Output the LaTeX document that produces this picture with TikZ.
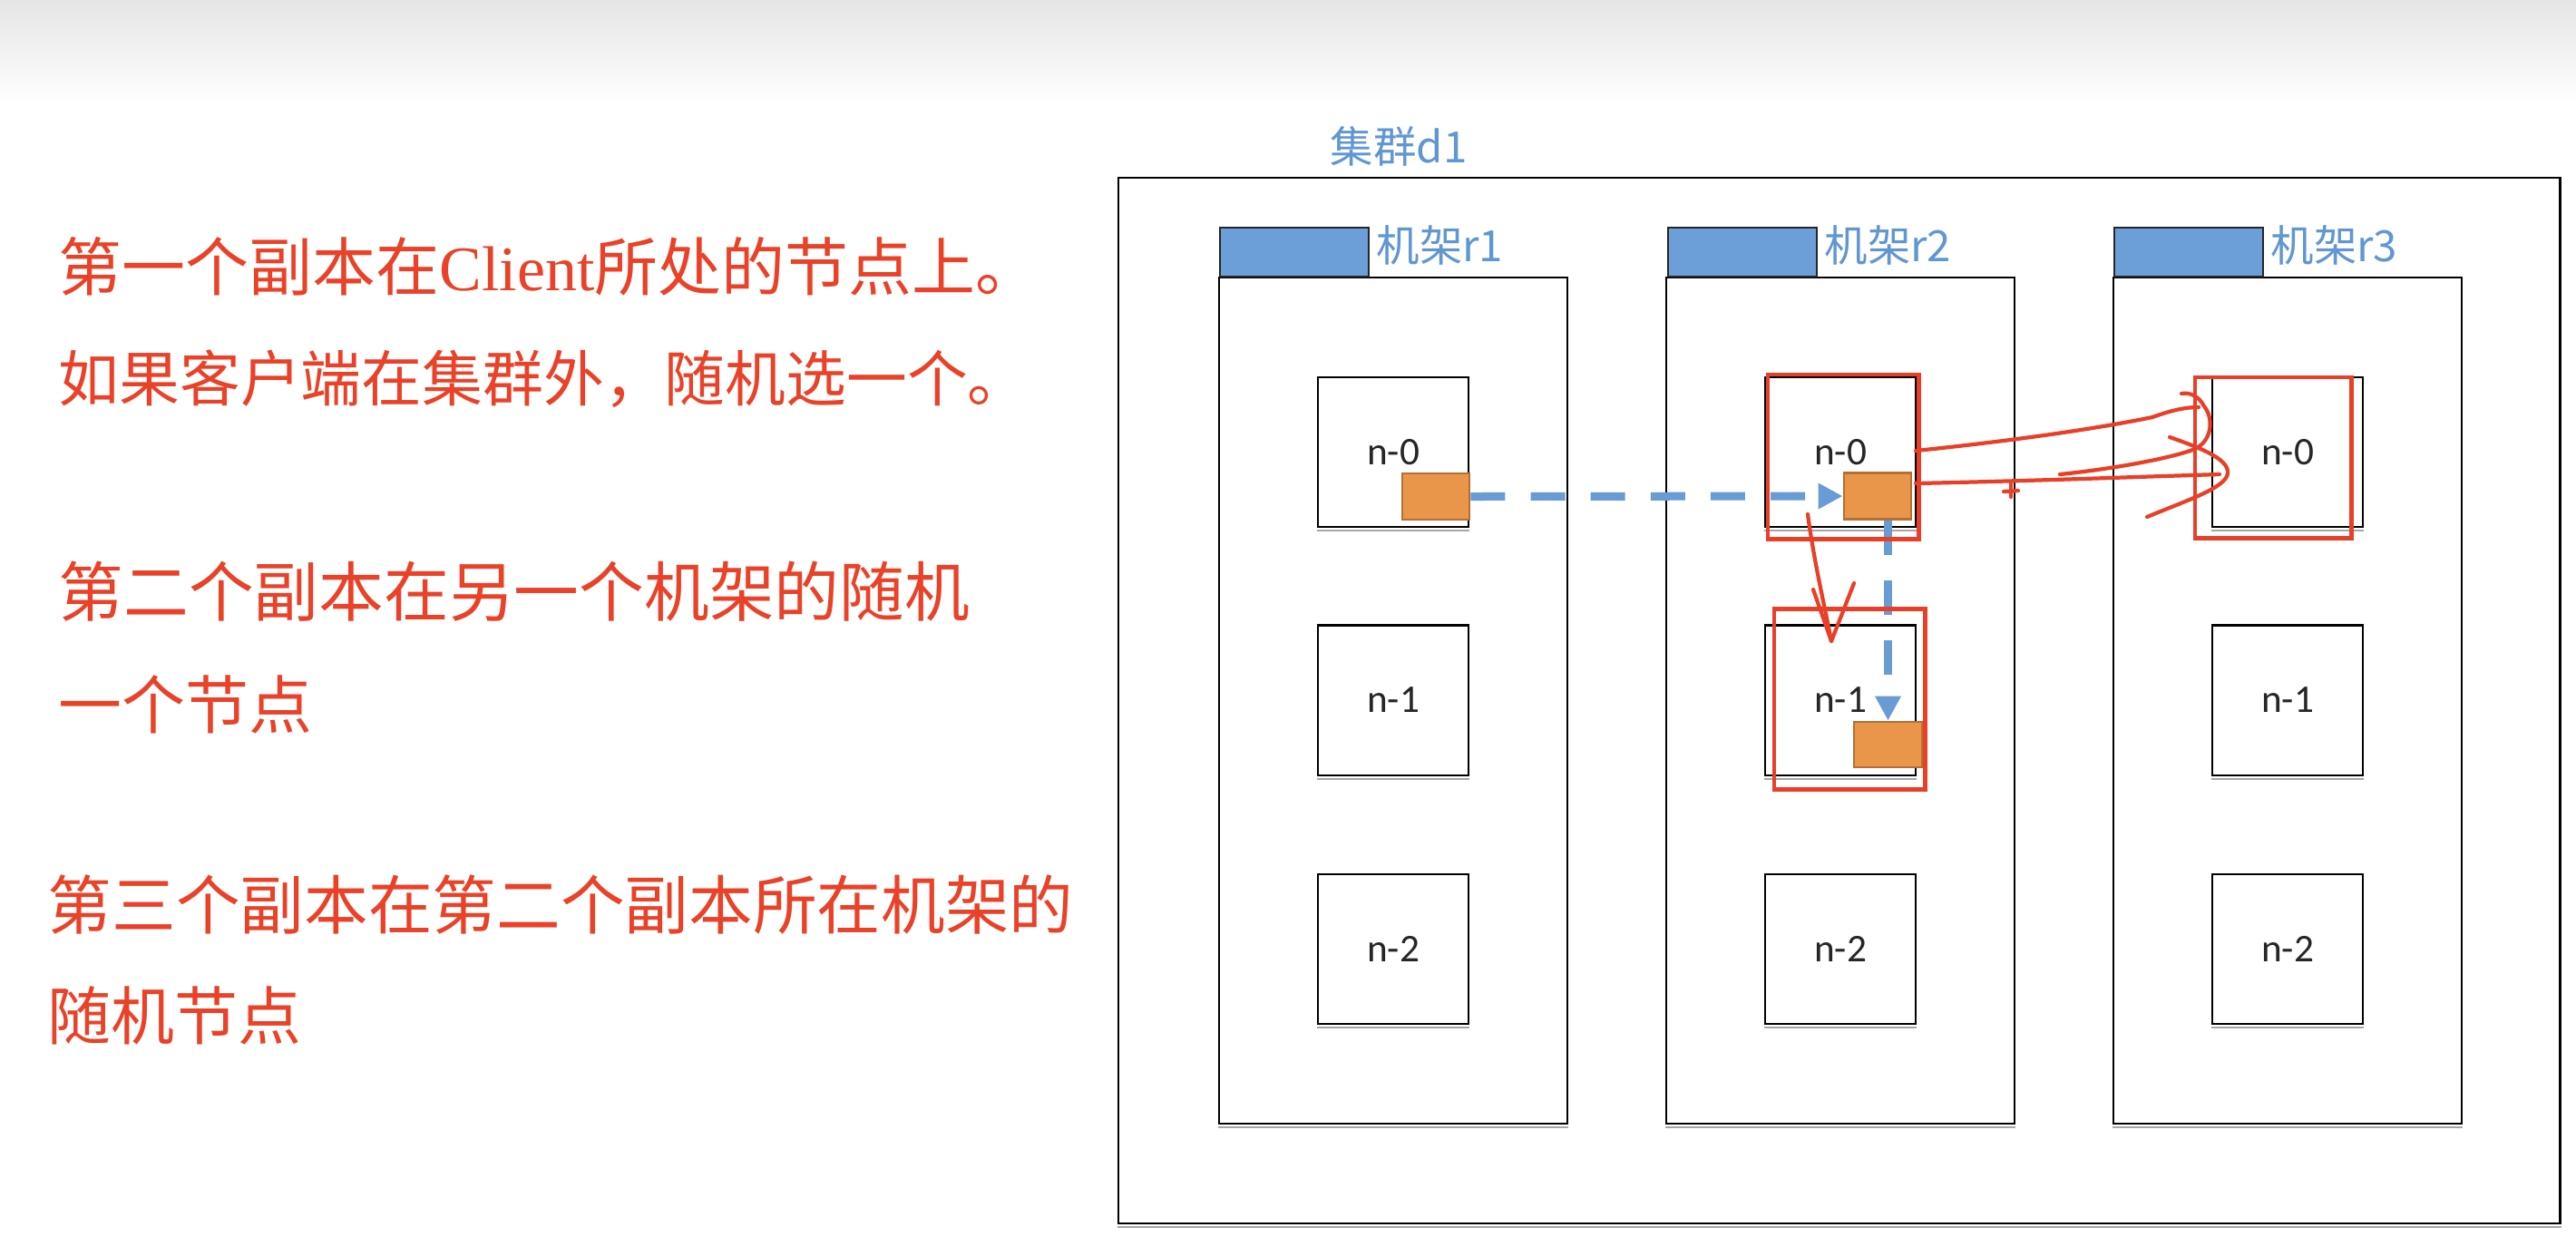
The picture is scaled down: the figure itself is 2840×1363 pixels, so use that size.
\documentclass[tikz,border=0pt]{standalone}
\usepackage{fontspec}
\setmainfont{Noto Sans CJK SC}
\newfontfamily\cjk{Noto Sans CJK SC}
\newfontfamily\calfont{Carlito}
\newfontfamily\latserif{Liberation Serif}
\usetikzlibrary{arrows.meta,calc}
\definecolor{annred}{RGB}{232,64,40}
\definecolor{txtred}{RGB}{233,66,40}
\definecolor{lblue}{RGB}{106,155,213}
\definecolor{hblue}{RGB}{108,158,216}
\definecolor{lbltext}{RGB}{96,150,210}
\definecolor{ofill}{RGB}{233,149,74}
\definecolor{oedge}{RGB}{180,112,52}
\definecolor{topgray}{RGB}{229,229,229}
\begin{document}
\begin{tikzpicture}[x=0.01cm,y=-0.01cm,
  clusterbox/.style={draw=black, line width=0.6pt, minimum width=15.89cm, minimum height=11.53cm, inner sep=0},
  rackbox/.style={draw=black, line width=0.6pt, minimum width=3.84cm, minimum height=9.33cm, inner sep=0},
  rackhead/.style={draw=black!85, fill=hblue, line width=0.5pt, minimum width=1.64cm, minimum height=0.54cm, inner sep=0, anchor=south west},
  srvbox/.style={draw=black, line width=0.6pt, fill=white, minimum width=1.66cm, minimum height=1.65cm, inner sep=0, text=black!85, font=\calfont\fontsize{12.3pt}{14pt}\selectfont},
  blk/.style={draw=oedge, line width=0.8pt, fill=ofill, minimum width=0.74cm, minimum height=0.51cm, inner sep=0},
  bluedash/.style={draw=lblue, line width=2.56pt, dash pattern=on 10.8pt off 8pt, -{Triangle[length=7.7pt,width=7.7pt]}},
  redbox/.style={draw=annred, line width=1.4pt, inner sep=0},
  scrib/.style={draw=annred, line width=1.2pt, line cap=round, line join=round},
  shadowline/.style={draw=black!35, line width=0.6pt},
  bluelbl/.style={anchor=west, inner sep=0, text=lbltext, font=\cjk\fontsize{13.5pt}{16pt}\selectfont},
  redtxt/.style={anchor=west, inner sep=0, text=txtred}
]
\useasboundingbox (0,0) rectangle (2840,1363);
\fill[white] (0,0) rectangle (2840,1363);
\shade[top color=topgray, bottom color=white] (0,0) rectangle (2840,115);

% cluster
\node[clusterbox] (cl) at (2027.5,772.5) {};
\draw[shadowline] ($(cl.south west)+(0,3)$) -- ($(cl.south east)+(0,3)$);
\node[bluelbl] (cllbl) at (1466,161) {集群d1};

% racks
\foreach \i/\cx/\lx in {1/1536/1344, 2/2029/1838, 3/2522/2330} {
  \node[rackbox] (rk\i) at (\cx,772.5) {};
  \draw[shadowline] ($(rk\i.south west)+(0,3)$) -- ($(rk\i.south east)+(0,3)$);
  \node[rackhead] (hd\i) at (\lx,306) {};
  \node[bluelbl] (rl\i) at ($(hd\i.south east)+(7,-36)$) {机架r\i};
  \node[srvbox] (r\i n0) at (\cx,498.5) {n-0};
  \node[srvbox] (r\i n1) at (\cx,772) {n-1};
  \node[srvbox] (r\i n2) at (\cx,1046.5) {n-2};
  \foreach \j in {0,1,2} {
    \draw[shadowline] ($(r\i n\j.south west)+(0,3)$) -- ($(r\i n\j.south east)+(0,3)$);
  }
}

% replica blocks
\node[blk] (o1) at (1583,547.5) {};
\node[blk] (o2) at (2070,547) {};
\node[blk, minimum width=0.75cm, minimum height=0.50cm] (o3) at (2081.5,821) {};

% blue dashed transfers
\draw[bluedash] (o1.east) -- (o2.west);
\draw[bluedash] (o3.north |- o2.south) -- (o3.north);

% red annotation boxes
\node[redbox, minimum width=1.66cm, minimum height=1.81cm] (ra) at (2032,503.5) {};
\node[redbox, minimum width=1.66cm, minimum height=1.98cm] (rb) at (2039,771) {};
\node[redbox, minimum width=1.72cm, minimum height=1.77cm] (rc) at (2506,504.5) {};

% red hand-drawn arrow n-0 -> n-1 (rack 2)
\coordinate (da) at (1993,567);
\coordinate (db) at (2019,707);
\draw[scrib] (da) .. controls (2000,620) and (2012,670) .. (db);
\draw[scrib] (1999,650) -- (db) -- (2044,643);

% red hand-drawn arrows rack2 n-0 -> rack3 n-0
\coordinate (ua) at (2112,497);
\coordinate (la) at (2112,533);
\draw[scrib] (ua) .. controls (2200,488) and (2300,475) .. (2373,460) .. controls (2395,452) and (2410,449) .. (2424,449);
\draw[scrib] (2271,523) .. controls (2330,517) and (2395,505) .. (2420,495) .. controls (2440,485) and (2440,460) .. (2430,448) .. controls (2425,438) and (2415,432) .. (2405,434);
\draw[scrib] (2392,482) .. controls (2420,492) and (2458,505) .. (2456,522) .. controls (2454,538) and (2410,552) .. (2367,570);
\draw[scrib] (la) .. controls (2250,530) and (2350,526) .. (2447,523);
\draw[scrib] (2217,531) -- (2217,548);
\draw[scrib] (2209,542) -- (2225,541);

% left explanatory text
\node[redtxt, font=\cjk\fontsize{19.9pt}{24pt}\selectfont] (t1) at (64,294) {第一个副本在{\latserif Client}所处的节点上。};
\node[redtxt, font=\cjk\fontsize{19.0pt}{24pt}\selectfont] (t2) at (64,418) {如果客户端在集群外，随机选一个。};
\node[redtxt, font=\cjk\fontsize{20.4pt}{24pt}\selectfont] (t3) at (64,652) {第二个副本在另一个机架的随机};
\node[redtxt, font=\cjk\fontsize{19.9pt}{24pt}\selectfont] (t4) at (64,777) {一个节点};
\node[redtxt, font=\cjk\fontsize{20.1pt}{24pt}\selectfont] (t5) at (52,998) {第三个副本在第二个副本所在机架的};
\node[redtxt, font=\cjk\fontsize{19.9pt}{24pt}\selectfont] (t6) at (52,1120) {随机节点};
\end{tikzpicture}
\end{document}
